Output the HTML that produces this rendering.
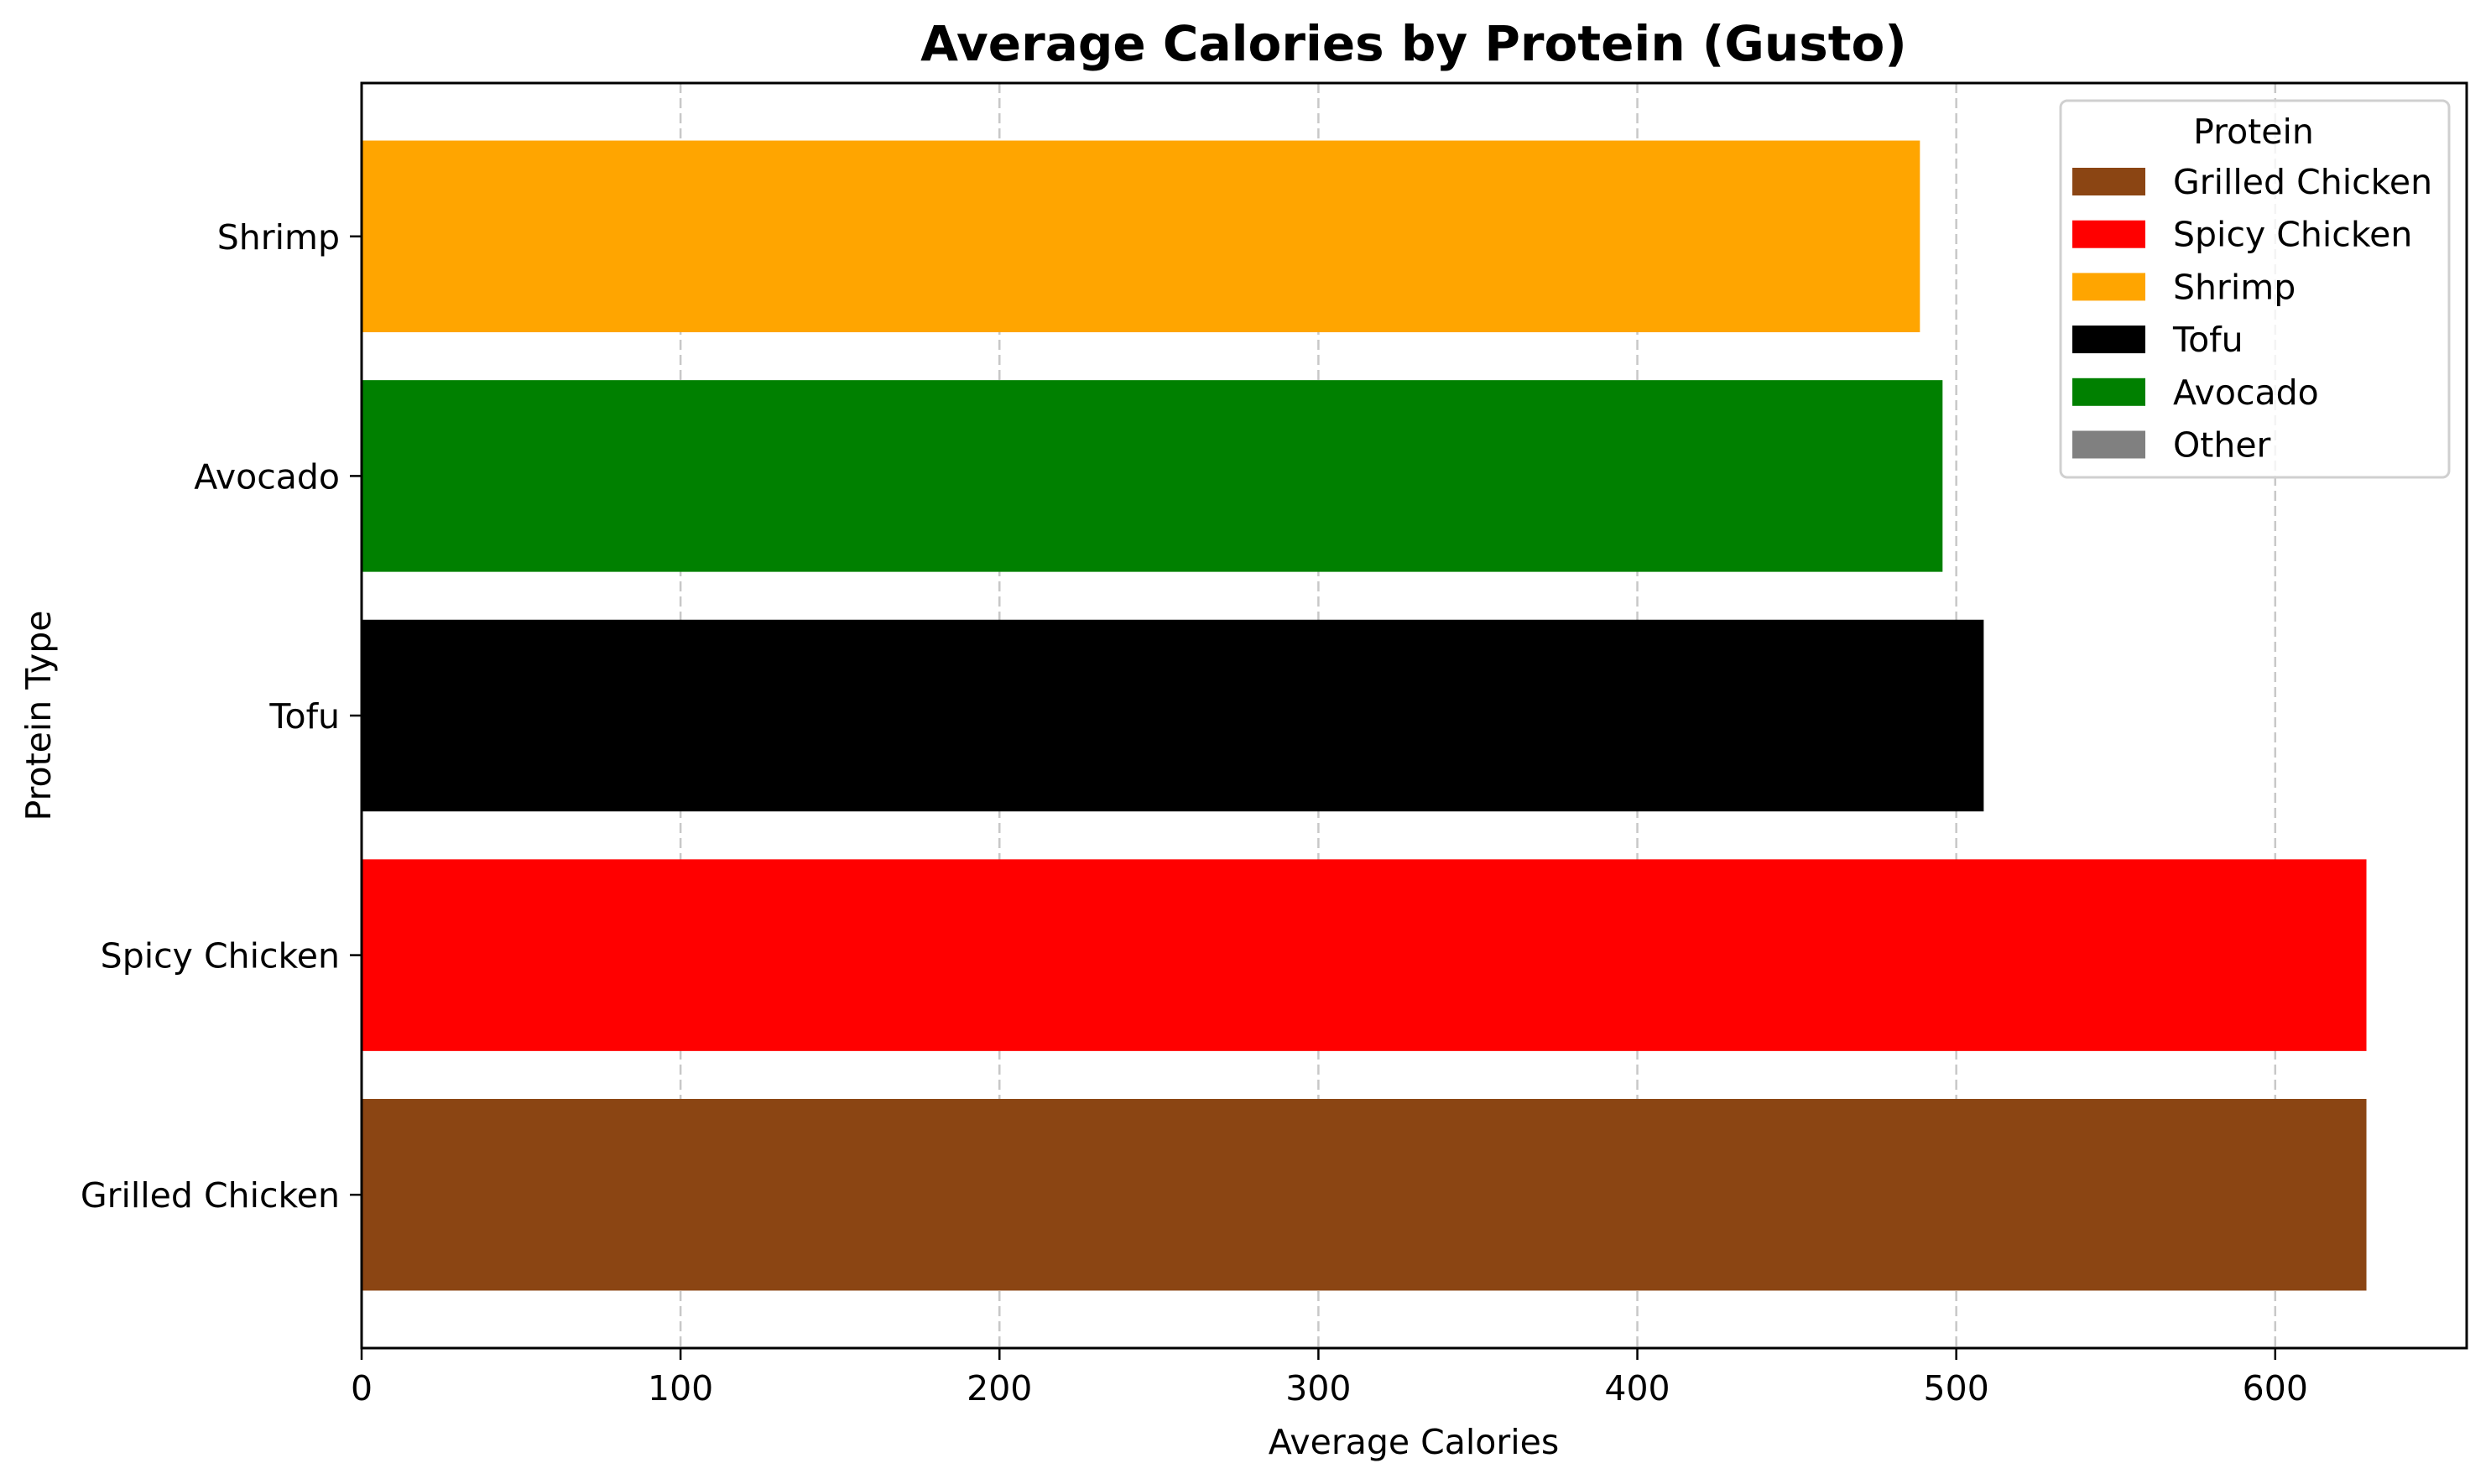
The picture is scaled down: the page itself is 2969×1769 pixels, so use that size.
<!DOCTYPE html>
<html><head><meta charset="utf-8"><style>
html,body{margin:0;padding:0;background:#fff}
svg{display:block;font-family:"DejaVu Sans","Liberation Sans",sans-serif}
</style></head><body>
<svg id="chart" width="2969" height="1769" viewBox="0 0 2969 1769" xmlns="http://www.w3.org/2000/svg">
<rect width="2969" height="1769" fill="#fff"/>
<text x="1685" y="72" font-size="58" font-weight="bold" text-anchor="middle">Average Calories by Protein (Gusto)</text>
<g id="grid"></g>
<g id="bars"></g>
<rect x="431" y="99" width="2509" height="1508" fill="none" stroke="#000" stroke-width="3"/>
<g id="xticks"></g>
<g id="yticks"></g>
<text x="1685" y="1733" font-size="41" text-anchor="middle">Average Calories</text>
<text transform="translate(60,853) rotate(-90)" font-size="41" text-anchor="middle">Protein Type</text>
<g id="legend"></g>
</svg>
<script>
const categories = ["Grilled Chicken","Spicy Chicken","Tofu","Avocado","Shrimp"];
const calories = [628.6, 628.6, 508.6, 495.7, 488.6];
const barColors = ["#8B4513","#FF0000","#000000","#008000","#FFA500"];
const xTicks = [0,100,200,300,400,500,600];
const legendLabels = ["Grilled Chicken","Spicy Chicken","Shrimp","Tofu","Avocado","Other"];
const legendColors = ["#8B4513","#FF0000","#FFA500","#000000","#008000","#808080"];

const NS="http://www.w3.org/2000/svg";
const L=431,R=2940,T=99,B=1607;
const xMax=Math.max(...calories)*1.05;
const x=v=>L+(v/xMax)*(R-L);
const yMin=-0.64,yMax=categories.length-1+0.64;
const y=i=>B-(i-yMin)/(yMax-yMin)*(B-T);
const unit=(B-T)/(yMax-yMin);
function mk(tag,attrs,parent){const e=document.createElementNS(NS,tag);for(const k in attrs)e.setAttribute(k,attrs[k]);parent.appendChild(e);return e;}
const grid=document.getElementById('grid'),bars=document.getElementById('bars'),xt=document.getElementById('xticks'),yt=document.getElementById('yticks'),lg=document.getElementById('legend');
xTicks.forEach(t=>{
  const g=mk('line',{x1:x(t),x2:x(t),y1:T,y2:B,stroke:'#c8c8c8','stroke-width':2.5,'stroke-dasharray':'12,6'},grid);
  
  
  const tk=mk('line',{x1:x(t),x2:x(t),y1:B,y2:B+14,stroke:'#000','stroke-width':2.5},xt);
  
  
  const lb=mk('text',{x:x(t),y:B+62,'font-size':41,'text-anchor':'middle'},xt);
  lb.textContent=t;
  
  
});
categories.forEach((c,i)=>{
  const h=unit*0.8;
  const r=mk('rect',{x:L,y:y(i)-h/2,width:x(calories[i])-L,height:h,fill:barColors[i]},bars);
  
  
  const tk=mk('line',{x1:L-14,x2:L,y1:y(i),y2:y(i),stroke:'#000','stroke-width':2.5},yt);
  
  
  const lb=mk('text',{x:L-26,y:y(i)+15,'font-size':41,'text-anchor':'end'},yt);
  lb.textContent=c;
  
  
});
const box=mk('rect',{x:2456,y:120,width:463,height:449,rx:8,fill:'#fff','fill-opacity':0.8,stroke:'#d0d0d0','stroke-width':3},lg);


const lt=mk('text',{x:2686,y:171,'font-size':41,'text-anchor':'middle'},lg);
lt.textContent='Protein';


legendLabels.forEach((n,i)=>{
  const yy=200+i*62.7;
  const sw=mk('rect',{x:2470,y:yy,width:87,height:33,fill:legendColors[i]},lg);
  
  
  const tx=mk('text',{x:2590,y:yy+31,'font-size':41},lg);
  tx.textContent=n;
  
  
});
</script>
</body></html>
